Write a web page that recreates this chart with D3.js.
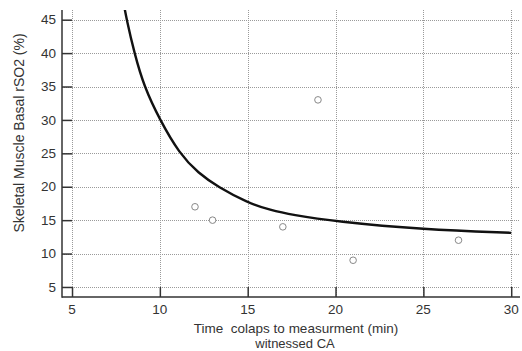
<!DOCTYPE html>
<html>
<head>
<meta charset="utf-8">
<script src="https://cdn.jsdelivr.net/npm/d3@7"></script>
<style>
  body { margin: 0; background: #fff; }
  text { font-family: "Liberation Sans", Arial, sans-serif; fill: #333; }
</style>
</head>
<body>
<svg></svg>
<script>
// points observés
const timeMin = [12, 13, 17, 19, 21, 27];
const rso2 = [17, 15, 14, 33, 9, 12];

// courbe de régression
const fitX = [7.9, 8.11, 8.55, 9.1, 10, 11.1, 12.2, 13.3, 15, 16.3, 17.5, 20, 25, 30];
const fitY = [48, 45, 40, 35, 30, 25, 22, 20, 17.6, 16.5, 15.8, 14.8, 13.6, 13.1];

const xTicks = [5, 10, 15, 20, 25, 30];
const yTicks = [5, 10, 15, 20, 25, 30, 35, 40, 45];

const width = 522;
const height = 351;
const plotLeft = 62, plotRight = 520, plotTop = 10, plotBottom = 297;

const svg = d3.select("svg").attr("width", width).attr("height", height);

const x = d3.scaleLinear().domain([4.43, 30.5]).range([plotLeft, plotRight]);
const y = d3.scaleLinear().domain([3.5, 46.45]).range([plotBottom, plotTop]);

svg.append("defs").append("clipPath").attr("id", "clip")
    .append("rect")
    .attr("x", plotLeft).attr("y", plotTop)
    .attr("width", plotRight - plotLeft).attr("height", plotBottom - plotTop);

// grille pointillée
const grid = svg.append("g").attr("stroke", "#9a9a9a").attr("stroke-width", 1)
    .attr("stroke-dasharray", "1,1");
grid.selectAll(".h").data(yTicks).join("line")
    .attr("x1", plotLeft).attr("x2", plotRight)
    .attr("y1", d => Math.round(y(d)) + 0.5).attr("y2", d => Math.round(y(d)) + 0.5);
grid.selectAll(".v").data(xTicks).join("line")
    .attr("y1", plotTop).attr("y2", plotBottom)
    .attr("x1", d => Math.round(x(d)) + 0.5).attr("x2", d => Math.round(x(d)) + 0.5);

// axes (ticks vers l'intérieur)
const yAxis = svg.append("g").attr("transform", `translate(${plotLeft},0)`)
    .call(d3.axisRight(y).tickValues(yTicks).tickSize(10).tickFormat(""));
yAxis.select(".domain").remove();
yAxis.selectAll("line").attr("stroke", "#333").attr("stroke-width", 1.5);

const xAxis = svg.append("g").attr("transform", `translate(0,${plotBottom})`)
    .call(d3.axisTop(x).tickValues(xTicks).tickSize(10).tickFormat(""));
xAxis.select(".domain").remove();
xAxis.selectAll("line").attr("stroke", "#333").attr("stroke-width", 1.5);

svg.append("line").attr("x1", plotLeft).attr("x2", plotLeft).attr("y1", plotTop).attr("y2", plotBottom + 0.75)
    .attr("stroke", "#333").attr("stroke-width", 1.5);
svg.append("line").attr("x1", plotLeft).attr("x2", plotRight).attr("y1", plotBottom).attr("y2", plotBottom)
    .attr("stroke", "#333").attr("stroke-width", 1.5);

// étiquettes
svg.append("g").selectAll("text").data(yTicks).join("text")
    .attr("x", 56).attr("y", d => y(d)).attr("dy", "0.35em")
    .attr("text-anchor", "end").attr("font-size", 13.5)
    .text(d => d);
svg.append("g").selectAll("text").data(xTicks).join("text")
    .attr("x", d => x(d)).attr("y", 314)
    .attr("text-anchor", "middle").attr("font-size", 13.5)
    .text(d => d);

svg.append("text")
    .attr("transform", "translate(24,133) rotate(-90)")
    .attr("text-anchor", "middle").attr("font-size", 14)
    .text("Skeletal Muscle Basal rSO2 (%)");
svg.append("text")
    .attr("x", 296).attr("y", 333).attr("text-anchor", "middle").attr("font-size", 13.5)
    .attr("xml:space", "preserve")
    .text("Time  colaps to measurment (min)");
svg.append("text")
    .attr("x", 295).attr("y", 348).attr("text-anchor", "middle").attr("font-size", 13)
    .text("witnessed CA");

// courbe
const fit = fitX.map((d, i) => [d, fitY[i]]);
svg.append("path")
    .datum(fit)
    .attr("clip-path", "url(#clip)")
    .attr("fill", "none").attr("stroke", "#111").attr("stroke-width", 2.4)
    .attr("d", d3.line().x(d => x(d[0])).y(d => y(d[1])).curve(d3.curveBasis));

// points
svg.append("g").selectAll("circle").data(timeMin).join("circle")
    .attr("cx", d => x(d))
    .attr("cy", (d, i) => y(rso2[i]))
    .attr("r", 3.3)
    .attr("fill", "#fff").attr("stroke", "#888").attr("stroke-width", 1);
</script>
</body>
</html>
